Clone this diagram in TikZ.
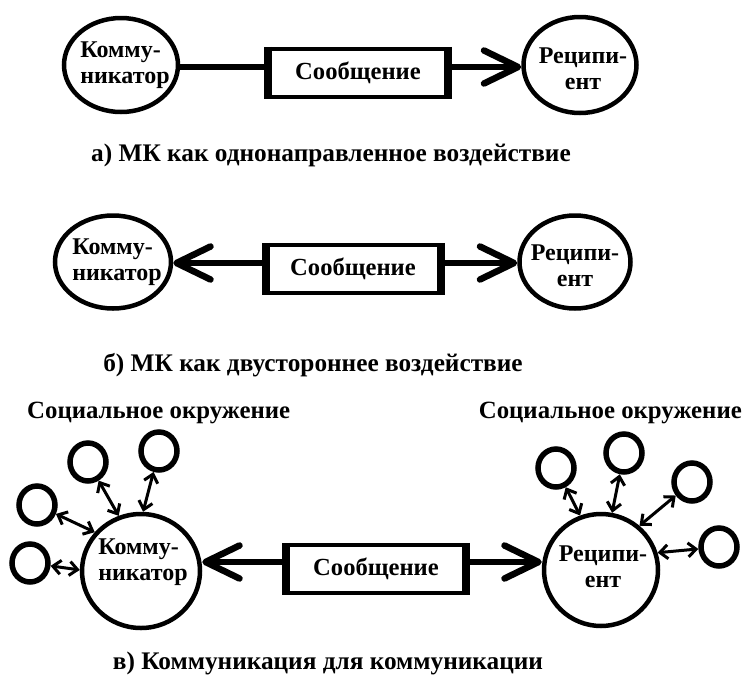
\documentclass[tikz,border=0pt]{standalone}
\usepackage{fontspec}
\setmainfont{Liberation Serif}
\usetikzlibrary{arrows.meta,shapes.geometric}
\begin{document}
\begin{tikzpicture}[x=1pt,y=-1pt,
  bigell/.style={draw,ellipse,line width=4.5pt,inner sep=0pt},
  txt/.style={font=\fontsize{24}{26}\selectfont\bfseries,align=center,inner sep=0pt},
  txtl/.style={font=\fontsize{24}{26}\selectfont\bfseries,align=left,inner sep=0pt},
  msg/.style={draw,rectangle,line width=4.5pt,inner sep=0pt,outer sep=0pt,minimum height=48pt,
    font=\fontsize{24.6}{26}\selectfont\bfseries},
  msgside/.style={line width=8pt},
  conn/.style={line width=6.5pt},
  bigtip/.style={-{Straight Barb[length=34pt,width=33pt,round]}},
  smallc/.style={draw,ellipse,line width=5.5pt,minimum width=36pt,minimum height=38pt,inner sep=0pt},
  sconn/.style={line width=3pt,{Straight Barb[length=8pt,width=14pt]}-{Straight Barb[length=8pt,width=14pt]}},
  captxt/.style={font=\fontsize{25.3}{27}\selectfont\bfseries,inner sep=0pt},
  soctxt/.style={font=\fontsize{24.8}{27}\selectfont\bfseries,inner sep=0pt}
]
\useasboundingbox (0,0) rectangle (745,675);

% ---------- row a ----------
\node[bigell,minimum width=114pt,minimum height=94pt] (k1) at (121,65) {};
\node[txtl] (k1t) at (125,65) {Комму-\\никатор};
\node[bigell,minimum width=113pt,minimum height=96pt] (r1) at (580,65) {};
\node[txt] (r1t) at (583,69) {Реципи-\\ент};
\node[msg,minimum width=180pt] (m1) at (358,73) {Сообщение};
\draw[msgside] ([yshift=2.25pt]m1.north west) -- ([yshift=-2.25pt]m1.south west);
\draw[msgside] ([yshift=2.25pt]m1.north east) -- ([yshift=-2.25pt]m1.south east);
\coordinate (y1) at (0,67);
\draw[conn] (k1.east |- y1) -- (m1.west |- y1);
\draw[conn,bigtip] (m1.east |- y1) -- (r1.west |- y1);
\node[captxt] (ca) at (331,155) {а) МК как однонаправленное воздействие};

% ---------- row b ----------
\node[bigell,minimum width=116pt,minimum height=93pt] (k2) at (113,262) {};
\node[txtl] (k2t) at (117,262) {Комму-\\никатор};
\node[bigell,minimum width=111pt,minimum height=93pt] (r2) at (575,262) {};
\node[txt] (r2t) at (575,266) {Реципи-\\ент};
\node[msg,minimum width=175pt] (m2) at (353,269) {Сообщение};
\draw[msgside] ([yshift=2.25pt]m2.north west) -- ([yshift=-2.25pt]m2.south west);
\draw[msgside] ([yshift=2.25pt]m2.north east) -- ([yshift=-2.25pt]m2.south east);
\coordinate (y2) at (0,263);
\draw[conn,bigtip] (m2.west |- y2) -- (k2.east |- y2);
\draw[conn,bigtip] (m2.east |- y2) -- (r2.west |- y2);
\node[captxt] (cb) at (313,365) {б) МК как двустороннее воздействие};

% ---------- row c ----------
\node[soctxt,anchor=west] (sl) at (27,413) {Социальное окружение};
\node[soctxt,anchor=east] (sr) at (742,413) {Социальное окружение};
\node[bigell,minimum width=118pt,minimum height=114pt] (k3) at (141,571) {};
\node[txtl] (k3t) at (143,562) {Комму-\\никатор};
\node[bigell,minimum width=114pt,minimum height=112pt] (r3) at (601,570) {};
\node[txt] (r3t) at (603,567) {Реципи-\\ент};
\node[msg,minimum width=180pt] (m3) at (376,569) {Сообщение};
\draw[msgside] ([yshift=2.25pt]m3.north west) -- ([yshift=-2.25pt]m3.south west);
\draw[msgside] ([yshift=2.25pt]m3.north east) -- ([yshift=-2.25pt]m3.south east);
\coordinate (y3) at (0,562);
\draw[conn,bigtip] (m3.west |- y3) -- (k3.east |- y3);
\draw[conn,bigtip] (m3.east |- y3) -- (r3.west |- y3);
\node[captxt,anchor=base] (cc) at (328,669) {в) Коммуникация для коммуникации};

% social surroundings (left)
\node[smallc] (c1) at (88,462) {};
\node[smallc] (c2) at (159,451) {};
\node[smallc] (c3) at (37,505) {};
\node[smallc] (c4) at (30,563) {};
\draw[sconn] (c1) -- (k3.112);
\draw[sconn] (c2) -- (k3.88);
\draw[sconn] (c3) -- (k3.140);
\draw[sconn] (c4) -- (k3.179);

% social surroundings (right)
\node[smallc] (d1) at (556,468) {};
\node[smallc] (d2) at (624,453) {};
\node[smallc] (d3) at (692,482) {};
\node[smallc] (d4) at (719,547) {};
\draw[sconn] (d1) -- (r3.111);
\draw[sconn] (d2) -- (r3.79);
\draw[sconn] (d3) -- (r3.49);
\draw[sconn] (d4) -- (r3.17);
\end{tikzpicture}
\end{document}
